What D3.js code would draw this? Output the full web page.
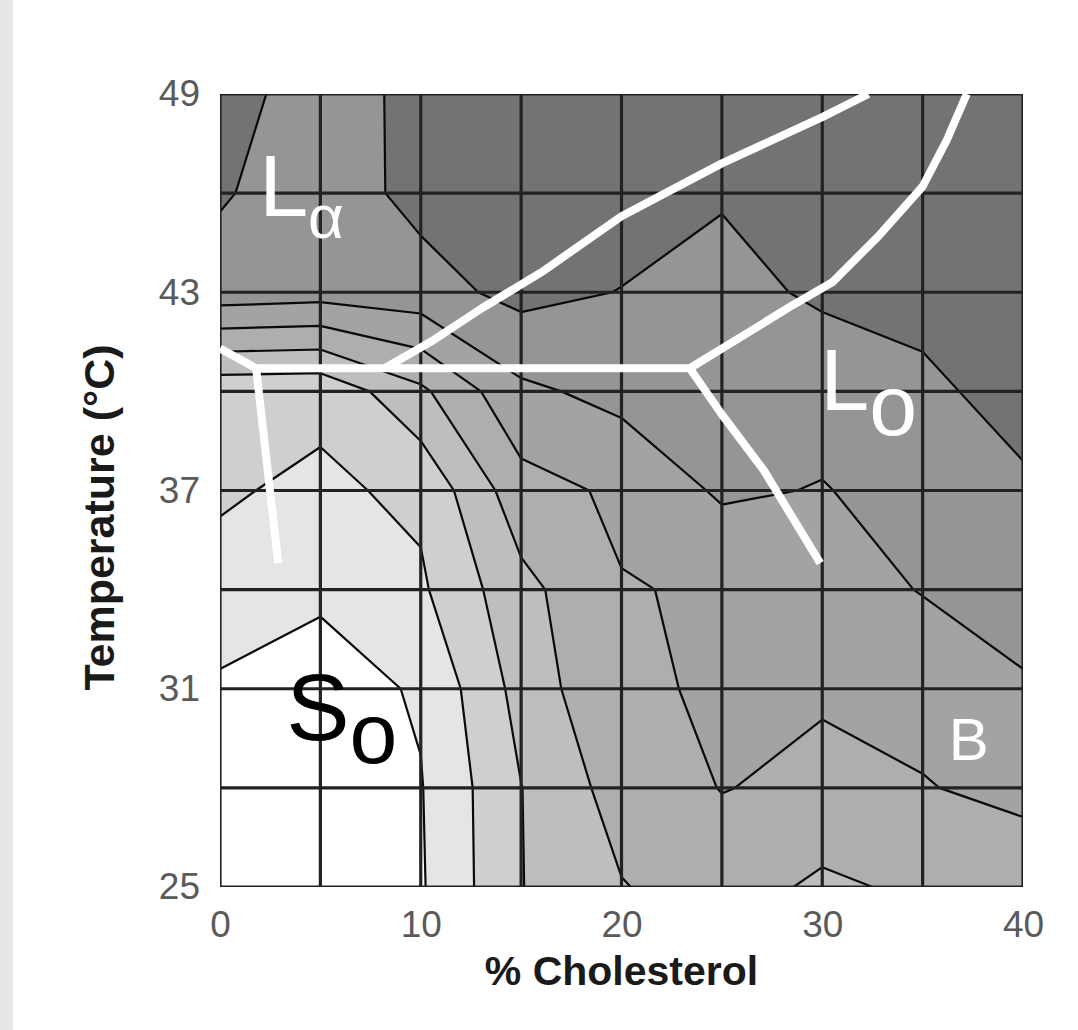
<!DOCTYPE html>
<html>
<head>
<meta charset="utf-8">
<script src="https://cdn.jsdelivr.net/npm/d3@7"></script>
<style>
    body { margin: 0; background: #fff; }
    text { font-family: "Liberation Sans", Arial, Helvetica, sans-serif; }
</style>
</head>
<body>
<svg id="chart" width="1078" height="1030"></svg>
<script>
// grid of the measurement (% cholesterol x temperature)
var cholesterol = [0, 5, 10, 15, 20, 25, 30, 35, 40];
var temperature = [25, 28, 31, 34, 37, 40, 43, 46, 49];

// contour level read at each grid node, one list per temperature row
var row25 = [0.40, 0.30, 0.90, 2.97, 3.95, 4.50, 3.80, 4.20, 4.40];
var row28 = [0.50, 0.40, 0.95, 2.98, 4.44, 5.03, 4.80, 4.95, 5.25];
var row31 = [0.82, 0.60, 1.10, 3.36, 4.96, 5.03, 5.09, 5.30, 5.85];
var row34 = [1.72, 1.15, 1.85, 3.70, 4.95, 5.10, 5.50, 6.05, 6.60];
var row37 = [2.10, 1.82, 2.20, 4.62, 5.18, 6.15, 5.95, 6.40, 6.85];
var row40 = [2.29, 2.23, 3.80, 5.80, 6.30, 6.40, 6.40, 6.80, 7.35];
var row43 = [6.57, 6.42, 6.60, 7.30, 6.97, 6.70, 7.15, 7.30, 7.50];
var row46 = [7.10, 6.45, 7.30, 7.50, 7.50, 7.08, 7.50, 7.50, 7.50];
var row49 = [7.30, 6.65, 7.20, 7.50, 7.50, 7.50, 7.50, 7.50, 7.50];

var levels = [1, 2, 3, 4, 5, 6, 7];
var bandColors = ["#ffffff", "#e5e5e5", "#cfcfcf", "#bebebe", "#aeaeae", "#a3a3a3", "#959595", "#737373"];

// phase boundaries [% cholesterol, temperature]
var lineSolidus = [[0, 41.3], [1.8, 40.7], [23.4, 40.7]];
var lineSoLeft = [[1.8, 40.7], [2.9, 34.8]];
var lineLaUpper = [[8.2, 40.7], [10.5, 41.5], [13, 42.5], [16, 43.6], [20, 45.3], [25, 46.9], [30, 48.3], [32.3, 49]];
var lineLoUpper = [[23.4, 40.7], [26.1, 41.7], [28.5, 42.6], [30.5, 43.3], [32.8, 44.7], [35, 46.2], [36.2, 47.6], [37.2, 49]];
var lineLoLower = [[23.4, 40.7], [25, 39.3], [27.1, 37.6], [29.9, 34.8]];

var xTicks = [0, 10, 20, 30, 40];
var yTicks = [25, 31, 37, 43, 49];

var svg = d3.select("#chart");

var x = d3.scaleLinear().domain([0, 40]).range([220, 1023]),
    y = d3.scaleLinear().domain([25, 49]).range([887, 94]);

svg.append("rect")
    .attr("x", 0).attr("y", 0)
    .attr("width", 13).attr("height", 1030)
    .attr("fill", "#e6e7e9");

svg.append("clipPath")
    .attr("id", "plotClip")
    .append("rect")
    .attr("x", x(0)).attr("y", y(49))
    .attr("width", x(40) - x(0)).attr("height", y(25) - y(49));

var plot = svg.append("g").attr("clip-path", "url(#plotClip)");

plot.append("rect")
    .attr("x", x(0)).attr("y", y(49))
    .attr("width", x(40) - x(0)).attr("height", y(25) - y(49))
    .attr("fill", bandColors[0]);

// contours: grid index i sits at contour coordinate i + 0.5
var values = [].concat(row25, row28, row31, row34, row37, row40, row43, row46, row49);
var gx = d3.scaleLinear().domain([0.5, cholesterol.length - 0.5]).range([cholesterol[0], cholesterol[cholesterol.length - 1]]),
    gy = d3.scaleLinear().domain([0.5, temperature.length - 0.5]).range([temperature[0], temperature[temperature.length - 1]]);

var contours = d3.contours()
    .size([cholesterol.length, temperature.length])
    .thresholds(levels)(values);

var path = d3.geoPath(d3.geoTransform({
    point: function (px, py) {
        this.stream.point(x(gx(px)), y(gy(py)));
    }
}));

plot.append("g")
    .selectAll("path")
    .data(contours)
    .enter()
    .append("path")
    .attr("d", path)
    .attr("fill", function (d, i) { return bandColors[i + 1]; });

plot.append("g")
    .selectAll("path")
    .data(contours)
    .enter()
    .append("path")
    .attr("d", path)
    .attr("fill", "none")
    .attr("stroke", "#0a0a0a")
    .attr("stroke-width", 2.2)
    .attr("stroke-linejoin", "round");

// grid
plot.append("g")
    .selectAll("line")
    .data(cholesterol)
    .enter()
    .append("line")
    .attr("x1", function (d) { return x(d); })
    .attr("x2", function (d) { return x(d); })
    .attr("y1", y(25)).attr("y2", y(49))
    .attr("stroke", "#222").attr("stroke-width", 3.2);

plot.append("g")
    .selectAll("line")
    .data(temperature)
    .enter()
    .append("line")
    .attr("y1", function (d) { return y(d); })
    .attr("y2", function (d) { return y(d); })
    .attr("x1", x(0)).attr("x2", x(40))
    .attr("stroke", "#222").attr("stroke-width", 3.2);

// white phase boundaries
var line = d3.line()
    .x(function (d) { return x(d[0]); })
    .y(function (d) { return y(d[1]); });

plot.append("g")
    .selectAll("path")
    .data([lineSolidus, lineSoLeft, lineLaUpper, lineLoUpper, lineLoLower])
    .enter()
    .append("path")
    .attr("d", line)
    .attr("fill", "none")
    .attr("stroke", "#fff")
    .attr("stroke-width", 8)
    .attr("stroke-linejoin", "round");

// phase labels
function phaseLabel(px, pt, main, sub, size, subSize, dy, color) {
    var t = svg.append("text")
        .attr("x", x(px)).attr("y", y(pt))
        .attr("fill", color)
        .style("font-size", size + "px")
        .text(main);
    if (sub) {
        t.append("tspan")
            .attr("dy", dy)
            .style("font-size", subSize + "px")
            .text(sub);
    }
}
phaseLabel(1.95, 45.3, "L", "α", 88, 62, 22, "#fff");
phaseLabel(29.9, 39.45, "L", "o", 88, 86, 25, "#fff");
phaseLabel(3.3, 29.45, "S", "o", 95, 86, 23, "#000");
phaseLabel(36.3, 28.85, "B", null, 60, 0, 0, "#fff");

// axes
var xAxis = svg.append("g")
    .attr("transform", "translate(0," + y(25) + ")")
    .call(d3.axisBottom(x).tickValues(xTicks).tickSize(0).tickPadding(24));
var yAxis = svg.append("g")
    .attr("transform", "translate(" + x(0) + ",0)")
    .call(d3.axisLeft(y).tickValues(yTicks).tickSize(0).tickPadding(20));

[xAxis, yAxis].forEach(function (a) {
    a.select(".domain").remove();
    a.selectAll("text")
        .attr("fill", "#5a5a5a")
        .style("font-size", "37px")
        .style("font-family", "'Liberation Sans', Arial, sans-serif");
});

svg.append("text")
    .attr("x", (x(0) + x(40)) / 2)
    .attr("y", 985)
    .attr("text-anchor", "middle")
    .attr("fill", "#1a1a1a")
    .style("font-size", "41px")
    .style("font-weight", "bold")
    .text("% Cholesterol");

svg.append("text")
    .attr("transform", "translate(114," + (y(37) + 27) + ") rotate(-90)")
    .attr("text-anchor", "middle")
    .attr("fill", "#1a1a1a")
    .style("font-size", "43px")
    .style("font-weight", "bold")
    .text("Temperature (°C)");
</script>
</body>
</html>
